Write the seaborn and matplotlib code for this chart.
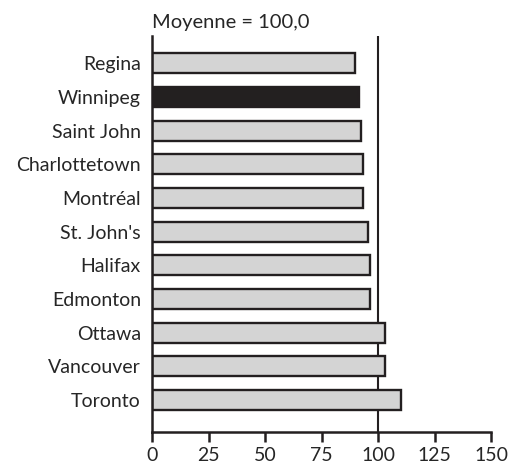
import matplotlib
matplotlib.use('Agg')
import matplotlib.pyplot as plt
import seaborn as sns

cities = ['Regina', 'Winnipeg', 'Saint John', 'Charlottetown', 'Montréal', "St. John's",
          'Halifax', 'Edmonton', 'Ottawa', 'Vancouver', 'Toronto']
values = [90.0, 91.5, 92.5, 93.5, 93.5, 95.5, 96.5, 96.5, 103.0, 103.0, 110.0]
highlight = 'Winnipeg'
xticks = [0, 25, 50, 75, 100, 125, 150]

sns.set_style('white')
plt.rcParams['font.family'] = ['Lato', 'DejaVu Sans']

dark = '#231f20'
colors = {c: (dark if c == highlight else '#d4d4d4') for c in cities}

fig = plt.figure(figsize=(5.17, 4.71), dpi=100)
ax = fig.add_axes([0.294, 0.083, 0.656, 0.841])

sns.barplot(x=values, y=cities, hue=cities, palette=colors, legend=False,
            orient='h', width=0.59, edgecolor=dark, linewidth=1.7, ax=ax)

ax.axvline(100, color=dark, linewidth=1.5, zorder=0)

ax.set_xlim(0, 150)
ax.set_ylim(10.95, -0.82)
ax.set_xticks(xticks)
ax.set_xticklabels([str(t) for t in xticks])
ax.tick_params(axis='x', bottom=True, direction='out', length=7, width=1.8,
               color=dark, labelsize=14, pad=4)
ax.tick_params(axis='y', left=False, length=0, labelsize=14, pad=8)
for s in ['top', 'right']:
    ax.spines[s].set_visible(False)
for s in ['left', 'bottom']:
    ax.spines[s].set_color(dark)
    ax.spines[s].set_linewidth(1.8)
ax.set_xlabel('')
ax.set_ylabel('')

ax.text(0, 1.012, 'Moyenne = 100,0', transform=ax.transAxes, fontsize=14.5,
        ha='left', va='bottom')

fig.savefig('out.png', dpi=100)
